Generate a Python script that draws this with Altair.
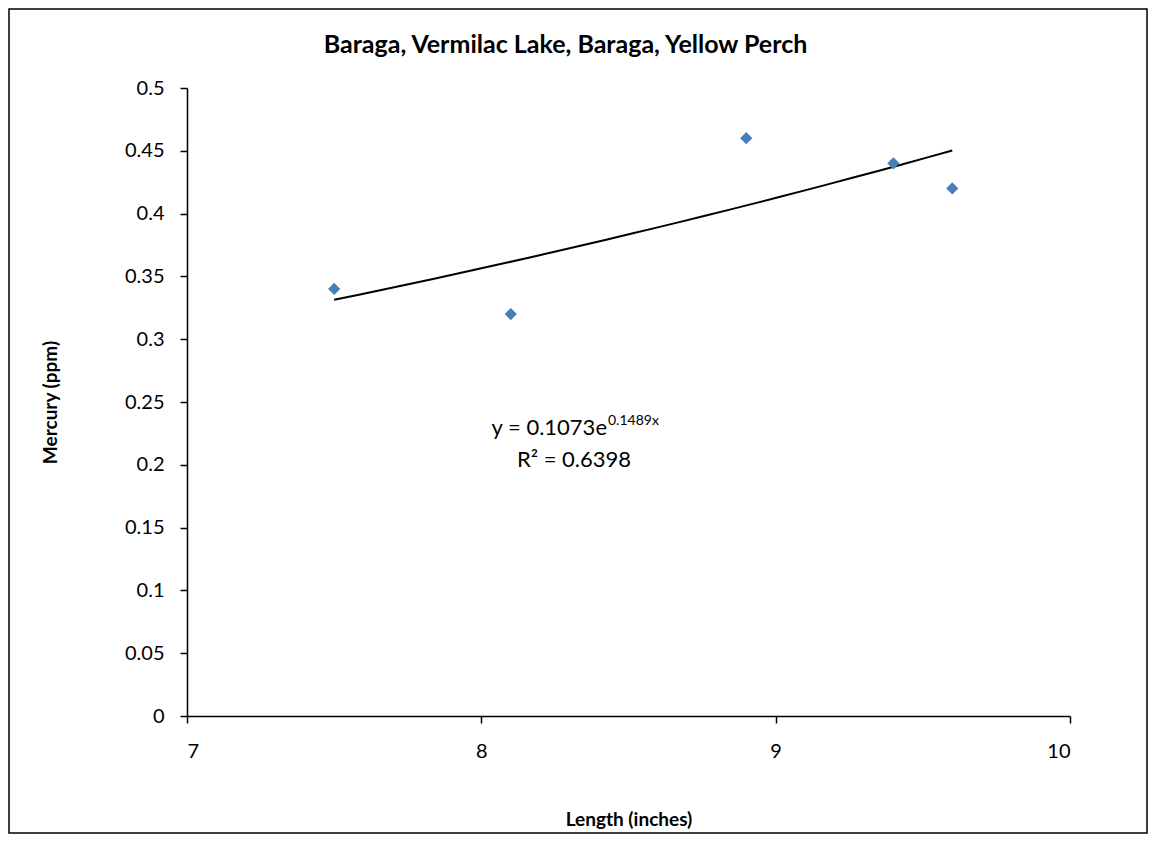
import altair as alt
import pandas as pd

length_in = [7.5, 8.1, 8.9, 9.4, 9.6]
mercury_ppm = [0.34, 0.32, 0.46, 0.44, 0.42]
x_ticks = [7, 8, 9, 10]
y_ticks = [0, 0.05, 0.1, 0.15, 0.2, 0.25, 0.3, 0.35, 0.4, 0.45, 0.5]
eq_main = "y = 0.1073e"
eq_sup = "0.1489x"
eq_r2 = "R² = 0.6398"
title_text = "Baraga, Vermilac Lake, Baraga, Yellow Perch"

df = pd.DataFrame({"Length": length_in, "Mercury": mercury_ppm})
one = pd.DataFrame({"k": [0]})
FONT = "Lato"

W, H = 883, 628

xenc = alt.X("Length:Q", scale=alt.Scale(domain=[7, 10], nice=False),
             axis=alt.Axis(values=x_ticks, format="d", title="Length (inches)",
                           labelPadding=18, titlePadding=49))
yenc = alt.Y("Mercury:Q", scale=alt.Scale(domain=[0, 0.5], nice=False),
             axis=alt.Axis(values=y_ticks, format=".2~f", title="Mercury (ppm)",
                           labelPadding=16, titlePadding=64))

points = alt.Chart(df).mark_point(shape="diamond", filled=True, size=150, color="#4A7EBB", opacity=1).encode(
    x=xenc, y=yenc)

trend = alt.Chart(df).transform_regression("Length", "Mercury", method="exp").mark_line(
    color="black", strokeWidth=2).encode(x="Length:Q", y="Mercury:Q")

eq1 = alt.Chart(one).mark_text(font=FONT, fontSize=22, fontWeight="normal", align="right",
                               baseline="middle", color="black").encode(
    x=alt.value(420), y=alt.value(340), text=alt.value(eq_main))
eq2 = alt.Chart(one).mark_text(font=FONT, fontSize=14, fontWeight="normal", align="left",
                               baseline="middle", color="black").encode(
    x=alt.value(421), y=alt.value(333), text=alt.value(eq_sup))
eq3 = alt.Chart(one).mark_text(font=FONT, fontSize=22, fontWeight="normal", align="center",
                               baseline="middle", color="black").encode(
    x=alt.value(387), y=alt.value(372), text=alt.value(eq_r2))

border = alt.Chart(one).mark_rect(fill=None, stroke="black", strokeWidth=1.5).encode(
    x=alt.value(-178), x2=alt.value(960), y=alt.value(-79), y2=alt.value(745))

chart = alt.layer(border, trend, points, eq1, eq2, eq3).properties(
    width=W, height=H,
    background="white",
    autosize=alt.AutoSizeParams(type="none"),
    padding={"left": 179, "top": 80, "right": 78, "bottom": 118},
    title=alt.TitleParams(title_text, font=FONT, fontSize=25, fontWeight="bold",
                          anchor="middle", dx=-63, offset=-50, color="black"),
).configure_view(stroke=None).configure_axis(
    grid=False, domainColor="black", domainWidth=1.5, tickColor="black", tickWidth=1.5,
    tickSize=7, labelFont=FONT, labelFontSize=20, labelFontWeight="normal", labelColor="black",
    titleFont=FONT, titleFontSize=19, titleFontWeight="bold", titleColor="black"
)

chart.save("out.html", embed_options={"renderer": "svg", "actions": False})
